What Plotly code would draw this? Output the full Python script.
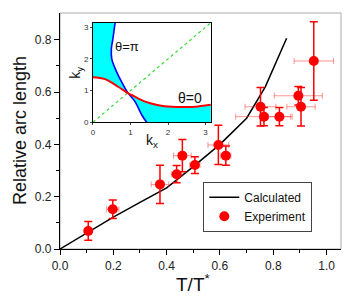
import plotly.graph_objects as go
import math

# ---- main data ----
calc_T = [0, 0.1, 0.2, 0.3, 0.4, 0.5, 0.6, 0.7, 0.77, 0.85]
calc_L = [0, 0.062, 0.122, 0.178, 0.234, 0.315, 0.40, 0.50, 0.62, 0.806]

exp_T = [0.106, 0.198, 0.375, 0.4375, 0.459, 0.506, 0.594, 0.622, 0.752, 0.765, 0.823, 0.894, 0.904, 0.952]
exp_L = [0.069, 0.152, 0.247, 0.286, 0.357, 0.321, 0.398, 0.357, 0.544, 0.506, 0.506, 0.586, 0.544, 0.719]
exp_errL = [0.036, 0.035, 0.073, 0.033, 0.062, 0.032, 0.075, 0.037, 0.074, 0.035, 0.035, 0.035, 0.074, 0.15]
exp_errT = [0.012, 0.023, 0.033, 0.02, 0.033, 0.019, 0.039, 0.019, 0.058, 0.106, 0.042, 0.09, 0.053, 0.074]

x_ticks = [0.0, 0.2, 0.4, 0.6, 0.8, 1.0]
y_ticks = [0.0, 0.2, 0.4, 0.6, 0.8]

# ---- inset data ----
PI = math.pi
red_kx = [0, 0.32, 0.67, 0.94, 1.03, 1.39, 1.74, 2.1, 2.5, 2.8, PI]
red_ky = [1.42, 1.36, 1.12, 0.91, 0.86, 0.65, 0.54, 0.49, 0.48, 0.5, 0.55]
blue_kx = [0.59, 0.53, 0.49, 0.5, 0.63, 0.81, 0.94, 1.12, 1.3, 1.43]
blue_ky = [PI, 2.63, 2.32, 2.0, 1.59, 1.17, 0.91, 0.65, 0.23, 0]
diag_k = [0, PI]
inset_ticks = [0, 1, 2, 3]

FONT = "Liberation Sans, Arial, sans-serif"

fig = go.Figure()

# inset fills (cyan)
ri = red_kx.index(0.94)
bi = blue_kx.index(0.94)
reg1_x = red_kx[:ri + 1] + blue_kx[:bi][::-1] + [0]
reg1_y = red_ky[:ri + 1] + blue_ky[:bi][::-1] + [PI]
reg2_x = blue_kx[bi:] + [PI] + red_kx[ri:][::-1]
reg2_y = blue_ky[bi:] + [0] + red_ky[ri:][::-1]
for rx, ry in [(reg1_x, reg1_y), (reg2_x, reg2_y)]:
    fig.add_trace(go.Scatter(x=rx, y=ry, xaxis="x2", yaxis="y2", mode="lines",
                             fill="toself", fillcolor="#00ffff", line=dict(width=0),
                             showlegend=False, hoverinfo="skip"))
fig.add_trace(go.Scatter(x=diag_k, y=diag_k, xaxis="x2", yaxis="y2", mode="lines",
                         line=dict(color="#33dd33", width=1.2, dash="3px,3px"),
                         showlegend=False))
fig.add_trace(go.Scatter(x=blue_kx, y=blue_ky, xaxis="x2", yaxis="y2", mode="lines",
                         line=dict(color="#0000ff", width=1.6, shape="spline"),
                         showlegend=False))
fig.add_trace(go.Scatter(x=red_kx, y=red_ky, xaxis="x2", yaxis="y2", mode="lines",
                         line=dict(color="#ff0000", width=2, shape="spline"),
                         showlegend=False))

# main traces
fig.add_trace(go.Scatter(x=calc_T, y=calc_L, mode="lines", name="Calculated",
                         line=dict(color="black", width=1.5)))
fig.add_trace(go.Scatter(x=exp_T, y=exp_L, mode="markers", name="Experiment",
                         marker=dict(color="#ff0000", size=10),
                         error_y=dict(type="data", array=exp_errL, color="#ff0000",
                                      thickness=1.5, width=4),
                         error_x=dict(type="data", array=exp_errT, color="rgba(255,60,60,0.55)",
                                      thickness=1, width=3)))

fig.update_layout(
    width=353, height=298, autosize=False,
    margin=dict(l=60, r=12, t=13, b=49),
    paper_bgcolor="white", plot_bgcolor="white",
    font=dict(family=FONT, color="#222"),
    showlegend=True,
    legend=dict(x=0.51, y=0.285, xanchor="left", yanchor="top",
                bgcolor="white", bordercolor="#444", borderwidth=1,
                font=dict(size=12, color="#111"), tracegroupgap=0),
    xaxis=dict(range=[0, 1.054], tickvals=x_ticks, ticktext=[f"{v:.1f}" for v in x_ticks],
               showgrid=False, zeroline=False, showline=True, linecolor="black", linewidth=1.3,
               ticks="outside", ticklen=5, tickcolor="black", tickfont=dict(size=12),
               minor=dict(tickvals=[0.1, 0.3, 0.5, 0.7, 0.9], ticks="outside", ticklen=3, tickcolor="black"),
               domain=[0, 1]),
    yaxis=dict(range=[0, 0.9025], tickvals=y_ticks, ticktext=[f"{v:.1f}" for v in y_ticks],
               showgrid=False, zeroline=False, showline=True, linecolor="black", linewidth=1.3,
               ticks="outside", ticklen=5, tickcolor="black", tickfont=dict(size=12),
               minor=dict(tickvals=[0.1, 0.3, 0.5, 0.7], ticks="outside", ticklen=3, tickcolor="black"),
               domain=[0, 1]),
    xaxis2=dict(domain=[0.1174, 0.537], anchor="y2", range=[0, PI], tickvals=inset_ticks,
                showgrid=False, zeroline=False, showline=True, mirror=True, linecolor="black",
                linewidth=1, ticks="outside", ticklen=2, tickfont=dict(size=8, color="#333")),
    yaxis2=dict(domain=[0.537, 0.959], anchor="x2", range=[0, PI], tickvals=inset_ticks,
                showgrid=False, zeroline=False, showline=True, mirror=True, linecolor="black",
                linewidth=1, ticks="outside", ticklen=2, tickfont=dict(size=8, color="#333")),
    shapes=[dict(type="rect", xref="x domain", yref="y domain", x0=0, x1=1, y0=0, y1=1,
                 line=dict(color="#aaaaaa", width=1), layer="below")],
    annotations=[
        dict(text="Relative arc length", xref="paper", yref="paper", x=-0.1423, y=0.5,
             xanchor="center", yanchor="middle", textangle=-90, showarrow=False,
             font=dict(size=18, color="#111")),
        dict(text="T/T<sup>*</sup>", xref="paper", yref="paper", x=0.473, y=-0.144,
             xanchor="center", yanchor="middle", showarrow=False,
             font=dict(size=19, color="#111")),
        dict(text="θ=π", xref="x2", yref="y2", x=0.91, y=2.39, showarrow=False,
             font=dict(size=13, color="#111")),
        dict(text="θ=0", xref="x2", yref="y2", x=2.59, y=0.78, showarrow=False,
             font=dict(size=14, color="#111")),
        dict(text="k<sub>x</sub>", xref="x2", yref="paper", x=1.57, y=0.505,
             xanchor="center", yanchor="top", showarrow=False, font=dict(size=14, color="#111")),
        dict(text="k<sub>y</sub>", xref="paper", yref="y2", x=0.058, y=1.57,
             xanchor="center", yanchor="middle", textangle=-90, showarrow=False,
             font=dict(size=14, color="#111")),
    ],
)

fig.write_html("out.html", config={"displayModeBar": False},
               post_script="document.body.style.margin='0';")
